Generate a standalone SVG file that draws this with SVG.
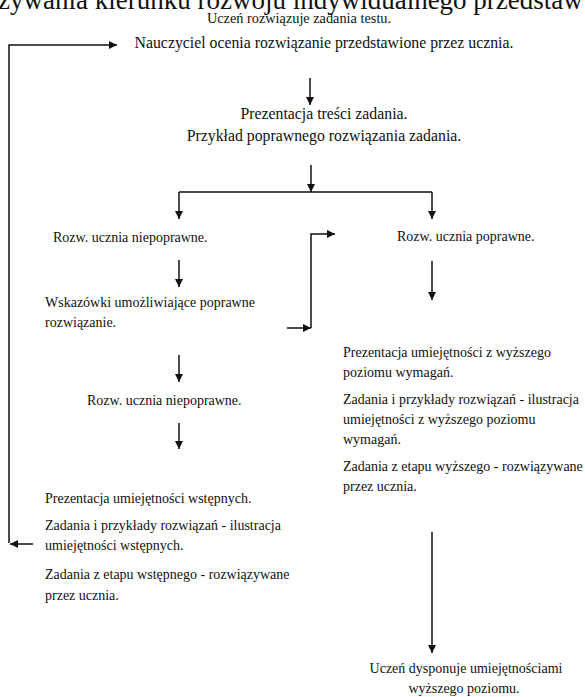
<svg xmlns="http://www.w3.org/2000/svg" width="585" height="697" viewBox="0 0 585 697">
<style>
text{font-family:"Liberation Serif","DejaVu Serif",serif;fill:#111;font-size:14px}
.c{text-anchor:middle}
.b{font-size:15.8px}
.t{font-size:27px}
.ln{stroke:#111;stroke-width:1.5;fill:none}
</style>
<defs>
<marker id="ah" viewBox="0 0 10 10" refX="10" refY="5" markerWidth="8" markerHeight="8" markerUnits="userSpaceOnUse" orient="auto">
<path d="M0,0 L10,5 L0,10 z" fill="#111"/>
</marker>
</defs>
<rect width="585" height="697" fill="#fff"/>
<text class="t" x="-2" y="9">żywania kierunku rozwoju indywidualnego przedstaw</text>
<g id="n1"><text class="c" x="299" y="23" style="font-size:14.3px">Uczeń rozwiązuje zadania testu.</text>
<text class="c b" x="324" y="48">Nauczyciel ocenia rozwiązanie przedstawione przez ucznia.</text></g>
<g id="n2"><text class="c b" x="324" y="119">Prezentacja treści zadania.</text>
<text class="c b" x="324" y="141">Przykład poprawnego rozwiązania zadania.</text></g>
<g id="n3"><text x="53" y="242">Rozw. ucznia niepoprawne.</text></g>
<g id="n4"><text x="397" y="241">Rozw. ucznia poprawne.</text></g>
<g id="n5"><text x="45" y="307">Wskazówki umożliwiające poprawne</text>
<text x="45" y="327">rozwiązanie.</text></g>
<g id="n6"><text x="87" y="405">Rozw. ucznia niepoprawne.</text></g>
<g id="n7"><text x="45" y="503">Prezentacja umiejętności wstępnych.</text>
<text x="45" y="530">Zadania i przykłady rozwiązań - ilustracja</text>
<text x="45" y="550">umiejętności wstępnych.</text>
<text x="45" y="579">Zadania z etapu wstępnego - rozwiązywane</text>
<text x="45" y="600">przez ucznia.</text></g>
<g id="n8"><text x="343" y="357">Prezentacja umiejętności z wyższego</text>
<text x="343" y="377">poziomu wymagań.</text>
<text x="343" y="404">Zadania i przykłady rozwiązań - ilustracja</text>
<text x="343" y="424">umiejętności z wyższego poziomu</text>
<text x="343" y="444">wymagań.</text>
<text x="343" y="471">Zadania z etapu wyższego - rozwiązywane</text>
<text x="343" y="491">przez ucznia.</text></g>
<g id="n9"><text class="c" x="466" y="673">Uczeń dysponuje umiejętnościami</text>
<text class="c" x="464" y="693">wyższego poziomu.</text></g>
<g id="connectors">
<path class="ln" d="M9,543 V45 H117" marker-end="url(#ah)"/>
<path class="ln" d="M33,544 H10" marker-end="url(#ah)"/>
<path class="ln" d="M310,78 V105" marker-end="url(#ah)"/>
<path class="ln" d="M311,165 V192" marker-end="url(#ah)"/>
<path class="ln" d="M179,192 H432"/>
<path class="ln" d="M179,192 V219" marker-end="url(#ah)"/>
<path class="ln" d="M432,192 V219" marker-end="url(#ah)"/>
<path class="ln" d="M179,260 V287" marker-end="url(#ah)"/>
<path class="ln" d="M432,261 V300" marker-end="url(#ah)"/>
<path class="ln" d="M311,328 V234 H335" marker-end="url(#ah)"/>
<path class="ln" d="M287,328 H311" marker-end="url(#ah)"/>
<path class="ln" d="M179,355 V382" marker-end="url(#ah)"/>
<path class="ln" d="M179,423 V449" marker-end="url(#ah)"/>
<path class="ln" d="M432,532 V653" marker-end="url(#ah)"/>
</g>
</svg>
